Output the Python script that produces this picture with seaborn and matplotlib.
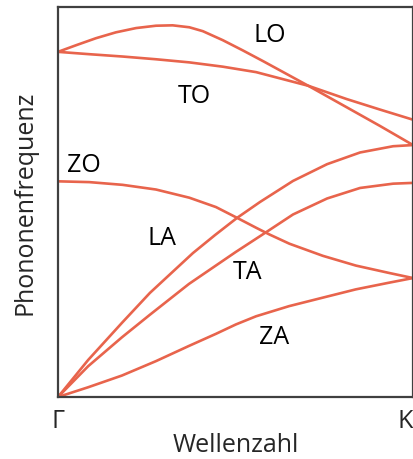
import matplotlib
matplotlib.use("Agg")
import matplotlib.pyplot as plt
import seaborn as sns
import pandas as pd

# Phonon branches (x: fraction of path Gamma->K, y: relative frequency 0..100)
lo_x = [0, 0.051, 0.107, 0.163, 0.220, 0.276, 0.323, 0.370, 0.408, 0.464, 0.520, 0.578, 0.705, 0.813, 0.907, 1.0]
lo_y = [88.5, 90.2, 92.0, 93.5, 94.6, 95.2, 95.3, 94.8, 93.8, 91.5, 88.9, 86.1, 79.8, 74.3, 69.5, 64.6]

to_x = [0, 0.088, 0.182, 0.276, 0.370, 0.464, 0.558, 0.705, 0.813, 0.907, 1.0]
to_y = [88.5, 87.9, 87.3, 86.6, 85.8, 84.7, 83.3, 79.8, 76.4, 73.7, 71.1]

zo_x = [0, 0.088, 0.182, 0.276, 0.370, 0.445, 0.501, 0.558, 0.595, 0.652, 0.746, 0.839, 0.933, 1.0]
zo_y = [55.3, 55.1, 54.4, 53.2, 51.1, 48.7, 46.1, 43.4, 41.7, 39.3, 36.2, 33.7, 31.8, 30.5]

la_x = [0, 0.085, 0.180, 0.259, 0.380, 0.442, 0.504, 0.569, 0.662, 0.758, 0.851, 0.944, 1.0]
la_y = [0, 9.5, 19.0, 26.7, 36.9, 41.5, 45.9, 50.0, 55.4, 59.7, 62.7, 64.3, 64.6]

ta_x = [0, 0.085, 0.180, 0.259, 0.369, 0.501, 0.592, 0.662, 0.758, 0.851, 0.944, 1.0]
ta_y = [0, 7.9, 15.3, 21.1, 29.0, 37.2, 42.6, 46.8, 50.9, 53.6, 54.7, 54.9]

za_x = [0, 0.085, 0.180, 0.276, 0.369, 0.445, 0.501, 0.558, 0.651, 0.747, 0.839, 0.932, 1.0]
za_y = [0, 2.5, 5.5, 9.2, 13.1, 16.2, 18.6, 20.7, 23.3, 25.5, 27.6, 29.3, 30.5]

branch_names = ["LO", "TO", "ZO", "LA", "TA", "ZA"]
label_x = [0.597, 0.384, 0.074, 0.293, 0.535, 0.608]
label_y = [92.9, 77.2, 59.5, 41.0, 32.3, 15.6]

tick_positions = [0, 1]
tick_labels = ["Γ", "K"]
x_title = "Wellenzahl"
y_title = "Phononenfrequenz"

sns.set_theme(style="white")
plt.rcParams["font.family"] = ["Open Sans", "DejaVu Sans"]

line_color = "#E8644C"
frame_color = "#404040"
fs = 18

fig = plt.figure(figsize=(4.14, 4.6), dpi=100)
ax = fig.add_axes([58 / 414, 1 - 398 / 460, (413 - 58) / 414, (398 - 8) / 460])

frames = []
for name, xs, ys in zip(branch_names,
                        [lo_x, to_x, zo_x, la_x, ta_x, za_x],
                        [lo_y, to_y, zo_y, la_y, ta_y, za_y]):
    frames.append(pd.DataFrame({"x": xs, "y": ys, "branch": name}))
df = pd.concat(frames, ignore_index=True)

sns.lineplot(data=df, x="x", y="y", units="branch", estimator=None, sort=False,
             color=line_color, linewidth=1.9, ax=ax, legend=False)
for line in ax.lines:
    line.set_solid_joinstyle("round")
    line.set_solid_capstyle("round")

for name, lx, ly in zip(branch_names, label_x, label_y):
    ax.text(lx, ly, name, ha="center", va="center", fontsize=fs, color="black")

ax.set_xlim(0, 1)
ax.set_ylim(0, 100)
ax.set_xticks(tick_positions)
ax.set_xticklabels(tick_labels, fontsize=fs)
ax.get_xticklabels()[-1].set_horizontalalignment("right")
ax.set_yticks([])
ax.tick_params(axis="x", length=0, pad=8)
ax.set_xlabel(x_title, fontsize=fs, labelpad=-1)
ax.set_ylabel(y_title, fontsize=fs, labelpad=15)
for s in ax.spines.values():
    s.set_visible(True)
    s.set_color(frame_color)
    s.set_linewidth(1.6)

fig.savefig("out.png", dpi=100)
